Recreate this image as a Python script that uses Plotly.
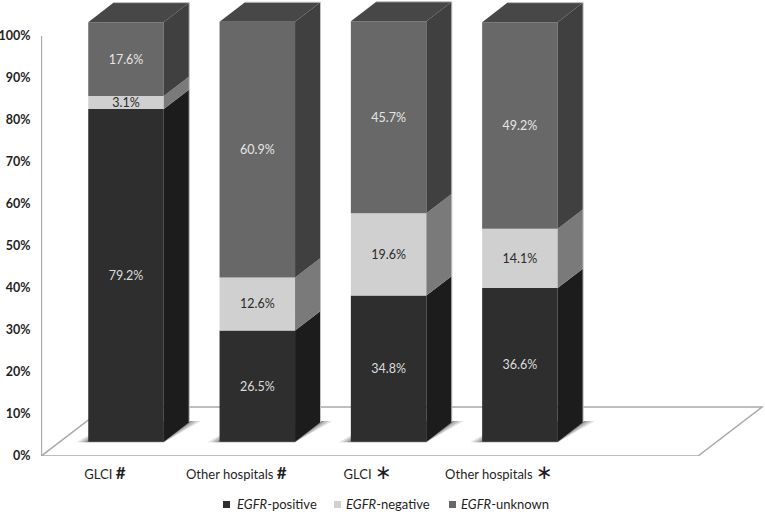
import plotly.graph_objects as go

categories = ["GLCI", "Other hospitals", "GLCI", "Other hospitals"]
marks = ["#", "#", "∗", "∗"]
positive = [79.2, 26.5, 34.8, 36.6]
negative = [3.1, 12.6, 19.6, 14.1]
unknown = [17.6, 60.9, 45.7, 49.2]
y_ticks = list(range(0, 101, 10))

W, H = 765, 514
ML, MB = 41, 58
PX_X = 131.3          # pixels per category step
PX_Y = 4.2            # pixels per percent
X_ZERO = 126          # pixel of the first category
LIFT = 3.4            # bar floor above the front axis, in percent units
BAR_W = 0.575
DX, DY = 0.194, 4.65  # depth of a bar
FLOOR_DX, FLOOR_DY = 64 / PX_X, 49 / PX_Y
LABEL_SHIFT = 0.16

x_range = [(ML - X_ZERO) / PX_X, (W - X_ZERO) / PX_X]
y_range = [0, (H - MB) / PX_Y]
xs = list(range(len(categories)))

series = [
    ("<i>EGFR</i>-positive", positive, "#2e2e2e", "#1c1c1c", "#dddddd"),
    ("<i>EGFR</i>-negative", negative, "#d0d0d0", "#7a7a7a", "#2a2a2a"),
    ("<i>EGFR</i>-unknown", unknown, "#686868", "#404040", "#e6e6e6"),
]
TOP_COLOR = "#474747"
legend_square_px = [226.5, 337.5, 452.5]
legend_text_px = [235, 344, 459]
LEGEND_Y_PX = 504.5

fig = go.Figure()
cum = [LIFT] * len(xs)
side_traces = []
for name, vals, front, side, txt in series:
    bases = list(cum)
    fig.add_trace(go.Bar(
        x=xs, y=vals, base=bases, width=BAR_W, name=name,
        marker=dict(color=front, line=dict(width=0)),
        text=[f"{v}%" for v in vals], textposition="inside",
        insidetextanchor="middle", textangle=0, constraintext="none",
        insidetextfont=dict(family="Lato", size=12.5, color=txt),
        hoverinfo="skip", showlegend=False,
    ))
    for i, x in enumerate(xs):
        r = x + BAR_W / 2
        b = bases[i]
        t = bases[i] + vals[i]
        side_traces.append(go.Scatter(
            x=[r, r + DX, r + DX, r, r], y=[b, b + DY, t + DY, t, b],
            mode="lines", fill="toself", fillcolor=side,
            line=dict(width=0), showlegend=False, hoverinfo="skip",
        ))
    cum = [c + v for c, v in zip(cum, vals)]

for t in side_traces:
    fig.add_trace(t)

# top faces and pale outline of each block
for i, x in enumerate(xs):
    l, r = x - BAR_W / 2, x + BAR_W / 2
    t = cum[i]
    fig.add_trace(go.Scatter(
        x=[l, r, r + DX, l + DX, l], y=[t, t, t + DY, t + DY, t],
        mode="lines", fill="toself", fillcolor=TOP_COLOR,
        line=dict(width=0), showlegend=False, hoverinfo="skip",
    ))
    fig.add_trace(go.Scatter(
        x=[l + DX, r + DX, r + DX], y=[t + DY, t + DY, LIFT + DY],
        mode="lines", line=dict(width=1, color="#c4c4c4"),
        showlegend=False, hoverinfo="skip",
    ))

shapes = []
# soft floor shadows
for i, x in enumerate(xs):
    l, r = x - BAR_W / 2, x + BAR_W / 2
    for spread, alpha in ((0.09, 0.16), (0.06, 0.22), (0.03, 0.3)):
        path = (f"M{l - spread},{LIFT - 0.1} L{r},{LIFT - 0.1} "
                f"L{r + DX + spread},{LIFT + DY + 0.3} L{l + DX},{LIFT + DY + 0.3} Z")
        shapes.append(dict(type="path", path=path, layer="below", line_width=0,
                           fillcolor=f"rgba(60,60,60,{alpha})"))

# floor and axis
fx0 = x_range[0] + 0.003
fx1 = (698 - X_ZERO) / PX_X
floor = (f"M{fx0},0 L{fx1},0 L{fx1 + FLOOR_DX},{FLOOR_DY} "
         f"L{fx0 + FLOOR_DX},{FLOOR_DY} Z")
shapes.append(dict(type="path", path=floor, layer="below",
                   line=dict(color="#a9a9a9", width=1.5), fillcolor="rgba(0,0,0,0)"))
shapes.append(dict(type="line", x0=fx0, x1=fx0, y0=0, y1=100, layer="below",
                   line=dict(color="#a9a9a9", width=1.5)))

# legend keys and labels
annotations = []
for (name, _, front, _, _), sx, tx in zip(series, legend_square_px, legend_text_px):
    shapes.append(dict(type="rect", xref="paper", yref="paper",
                       x0=(sx - 3.5 - ML) / (W - ML), x1=(sx + 3.5 - ML) / (W - ML),
                       y0=(H - MB - LEGEND_Y_PX - 3.5) / (H - MB),
                       y1=(H - MB - LEGEND_Y_PX + 3.5) / (H - MB),
                       line_width=0, fillcolor=front))
    annotations.append(dict(text=name, xref="paper", yref="paper", showarrow=False,
                            x=(tx - ML) / (W - ML), y=(H - MB - LEGEND_Y_PX) / (H - MB),
                            xanchor="left", yanchor="middle",
                            font=dict(family="Lato", size=13, color="#1f1f1f")))

def mark_html(m):
    if m == "#":
        return "<b><span style='font-size:17px'>#</span></b>"
    return "<span style='font-size:20px;font-family:DejaVu Sans'>∗</span>"

fig.update_layout(
    width=W, height=H, barmode="overlay", shapes=shapes, annotations=annotations,
    margin=dict(l=ML, r=0, t=0, b=MB, autoexpand=False),
    paper_bgcolor="white", plot_bgcolor="white",
    font=dict(family="Lato", color="#1f1f1f", size=13),
    showlegend=False,
    xaxis=dict(
        range=x_range, showgrid=False, zeroline=False, showline=False,
        tickmode="array", tickvals=[x - LABEL_SHIFT for x in xs],
        ticktext=[f"{c} {mark_html(m)}" for c, m in zip(categories, marks)],
        ticks="outside", ticklen=6, tickcolor="rgba(0,0,0,0)",
        tickfont=dict(family="Lato", size=13, color="#1f1f1f"),
    ),
    yaxis=dict(
        range=y_range, showgrid=False, zeroline=False, showline=False,
        tickmode="array", tickvals=y_ticks, ticktext=[f"{v}%" for v in y_ticks],
        ticks="outside", ticklen=7, tickcolor="rgba(0,0,0,0)",
        tickfont=dict(family="Lato", size=12.5, color="#1f1f1f", weight="bold"),
    ),
)

fig.write_html("out.html", config=dict(displayModeBar=False),
               post_script="document.body.style.margin='0';document.documentElement.style.overflow='hidden';")
